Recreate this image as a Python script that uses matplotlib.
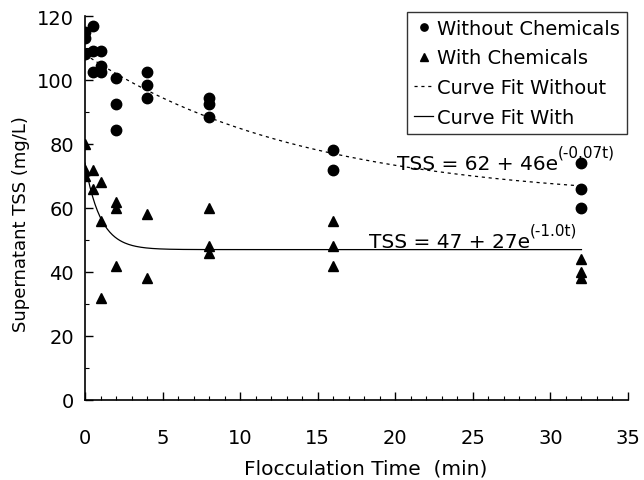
import numpy as np
import matplotlib
matplotlib.use("Agg")
import matplotlib.pyplot as plt
from matplotlib.ticker import MultipleLocator

plt.rcParams['font.family'] = ['DejaVu Sans']

# Data: without chemicals
t_without = [0, 0, 0, 0.5, 0.5, 0.5, 1, 1, 1, 2, 2, 2, 4, 4, 4, 8, 8, 8, 16, 16, 32, 32, 32]
tss_without = [115, 113, 108, 117, 109, 102.5, 109, 104.5, 102.5,
               100.5, 92.5, 84.5, 102.5, 98.5, 94.5, 94.5, 92.5, 88.5,
               78, 72, 74, 66, 60]

# Data: with chemicals
t_with = [0, 0, 0, 0.5, 0.5, 1, 1, 1, 2, 2, 2, 4, 4, 8, 8, 8, 16, 16, 16, 32, 32, 32]
tss_with = [80, 72, 70, 72, 66, 68, 56, 32, 62, 60, 42, 58, 38,
            60, 48, 46, 56, 48, 42, 44, 40, 38]

# Curve-fit parameters (as printed on the chart)
fit_without = (62, 46, 0.07)
fit_with = (47, 27, 1.0)
t_fit_max = 32

x_ticks = [0, 5, 10, 15, 20, 25, 30, 35]
y_ticks = [0, 20, 40, 60, 80, 100, 120]

fig = plt.figure(figsize=(6.44, 4.81), dpi=100)
ax = fig.add_axes([85/644, 1-401/481, (628-85)/644, (401-17)/481])

tt = np.linspace(0, t_fit_max, 400)
a, b, k = fit_without
ax.plot(tt, a + b*np.exp(-k*tt), color='black', lw=0.9, linestyle=(0, (2.5, 3)),
        label='Curve Fit Without', zorder=2)
a2, b2, k2 = fit_with
ax.plot(tt, a2 + b2*np.exp(-k2*tt), color='black', lw=0.9, linestyle='-',
        label='Curve Fit With', zorder=2)

ax.plot(t_without, tss_without, 'o', color='black', ms=7.5, label='Without Chemicals', zorder=3)
ax.plot(t_with, tss_with, '^', color='black', ms=7.5, label='With Chemicals', zorder=3)

handles, labels = ax.get_legend_handles_labels()
order = [2, 3, 0, 1]
leg = fig.legend([handles[i] for i in order], [labels[i] for i in order],
                 loc='upper right', bbox_to_anchor=(627/644, 1-13/481),
                 frameon=True, fancybox=False, fontsize=14, handlelength=1.0,
                 handletextpad=0.2, borderpad=0.35, labelspacing=0.55, borderaxespad=0,
                 markerscale=0.7)
leg.get_frame().set_edgecolor('black')
leg.get_frame().set_linewidth(1.0)

t1 = ax.text(20.1, 72.2, 'TSS = 62 + 46e', fontsize=14.5, va='baseline', ha='left')
ax.annotate('(-0.07t)', xy=(1, 0.72), xycoords=t1, fontsize=11, va='bottom', ha='left')
t2 = ax.text(18.3, 47.8, 'TSS = 47 + 27e', fontsize=14.5, va='baseline', ha='left')
ax.annotate('(-1.0t)', xy=(1, 0.72), xycoords=t2, fontsize=11, va='bottom', ha='left')

ax.set_xlim(0, 35)
ax.set_ylim(0, 120)
ax.set_xticks(x_ticks)
ax.set_yticks(y_ticks)
ax.xaxis.set_minor_locator(MultipleLocator(1))
ax.yaxis.set_minor_locator(MultipleLocator(10))
ax.tick_params(axis='both', which='major', direction='in', length=6, width=1, labelsize=14)
ax.tick_params(axis='both', which='minor', direction='in', length=3, width=0.8)
ax.tick_params(axis='x', which='major', pad=20)
ax.tick_params(axis='y', which='major', pad=8)
for s in ['top', 'right']:
    ax.spines[s].set_visible(False)
for s in ['left', 'bottom']:
    ax.spines[s].set_linewidth(1.2)

ax.set_xlabel('Flocculation Time  (min)', fontsize=14.5)
ax.set_ylabel('Supernatant TSS (mg/L)', fontsize=13)
ax.xaxis.set_label_coords((366-85)/543, (401-460)/384)
ax.yaxis.set_label_coords((30-85)/543, (401-224)/384)

fig.savefig('out.png', dpi=100)
